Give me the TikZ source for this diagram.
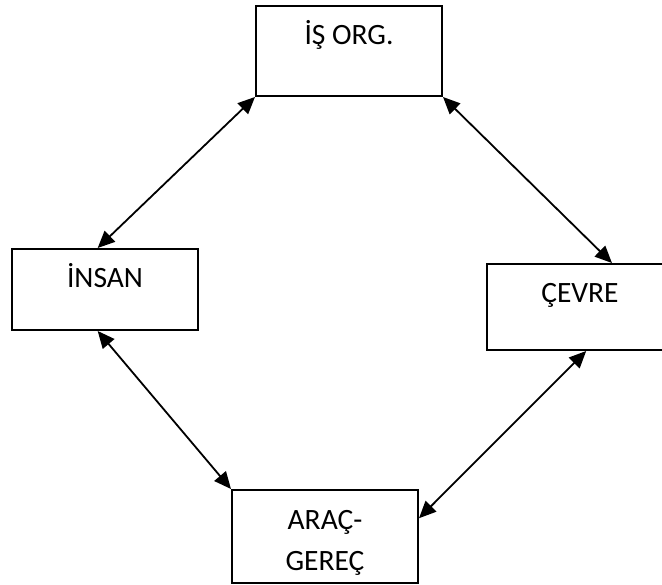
\documentclass[tikz,border=0pt]{standalone}
\usepackage{fontspec}
\setmainfont{Carlito}
\usetikzlibrary{arrows.meta}

\begin{document}
\begin{tikzpicture}[
    x=1pt, y=-1pt,
    box/.style={rectangle, draw, line width=2pt, anchor=north west, minimum width=186pt, inner sep=0pt, align=center, font=\fontsize{29.5}{41}\selectfont, text height=39pt},
    arrow/.style={{Triangle[length=17pt,width=15pt]}-{Triangle[length=17pt,width=15pt]}, line width=1.8pt}
]
\useasboundingbox (0,0) rectangle (662,585);
\node[box, text depth=51pt] (isorg) at (255,5) {İŞ ORG.};
\node[box, text depth=42pt] (insan) at (11,248) {İNSAN};
\node[box, text depth=47pt] (cevre) at (486,263) {ÇEVRE};
\node[box, text height=80pt, text depth=13pt] (arac) at (231,489) {ARAÇ-\\GEREÇ};

\draw[arrow] (insan.100) -- (isorg.south west);
\draw[arrow] (isorg.south east) -- (cevre.54);
\draw[arrow] (insan.260) -- (arac.north west);
\draw[arrow] (cevre.-82) -- (arac.11);
\end{tikzpicture}
\end{document}
